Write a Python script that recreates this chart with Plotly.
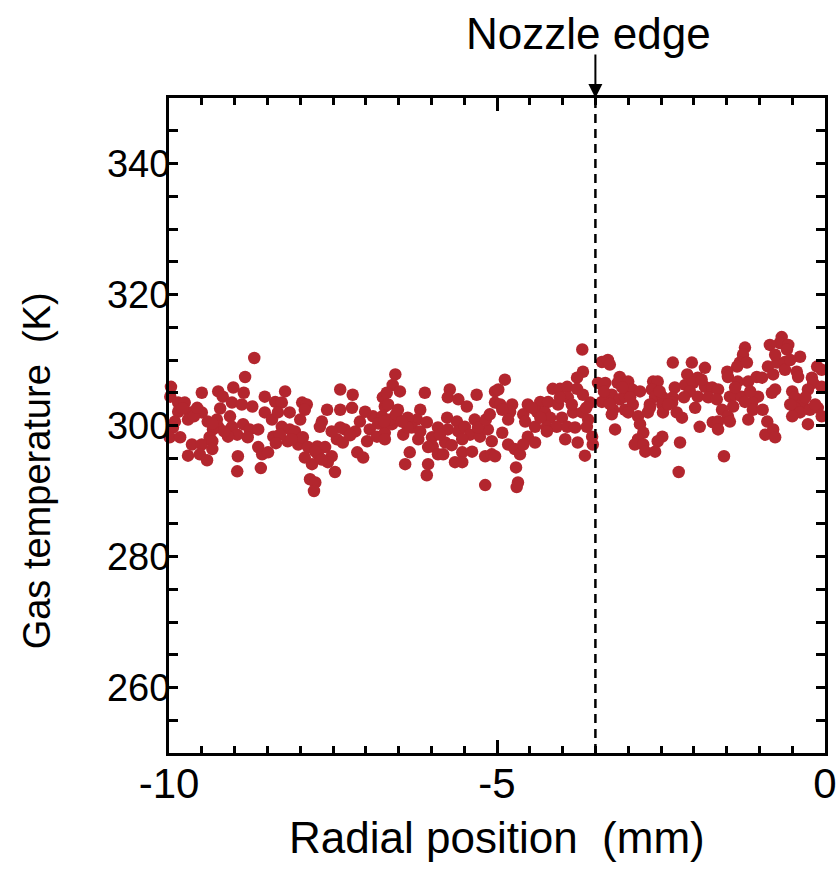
import plotly.graph_objects as go

# Radial position (mm) and gas temperature (K)
radial_mm = [
    -8.70, -8.84, -9.97, -9.98, -9.50, -9.25, -9.02, -8.86, -9.18, -9.04,
    -8.89, -8.73, -8.54, -9.86, -9.76, -9.86, -9.68, -9.50, -9.22, -9.07,
    -8.54, -8.43, -9.71, -9.91, -9.94, -9.41, -9.27, -9.25, -9.04, -8.87,
    -8.77, -8.64, -8.96, -8.80, -9.10, -9.33, -9.99, -9.83, -9.38, -8.41,
    -9.65, -9.50, -9.34, -9.34, -9.53, -9.71, -9.42, -8.64, -8.58, -8.49,
    -8.95, -8.96, -8.60,
    -8.23, -8.38, -8.28, -7.97, -7.90, -7.93, -7.39, -7.20, -7.21, -7.39,
    -7.59, -7.67, -7.70, -8.34, -8.16, -8.00, -8.28, -8.16, -8.08, -8.19,
    -8.03, -7.96, -7.88, -7.74, -7.62, -7.73, -7.52, -7.82, -7.58, -7.47,
    -7.85, -7.77, -7.79, -7.44, -7.35, -7.32, -7.16, -7.09, -7.13, -7.04,
    -6.98, -6.94, -6.89, -6.75, -6.83, -6.71, -6.74, -6.71,
    -6.55, -6.59, -6.48, -6.68, -6.66, -6.51, -6.10, -5.72, -5.75, -5.59,
    -5.46, -5.31, -5.03, -5.03, -6.17, -6.22, -6.36, -6.07, -6.60, -6.43,
    -6.30, -6.71, -6.20, -5.99, -5.90, -5.76, -5.61, -5.75, -5.59, -5.49,
    -5.34, -5.41, -5.26, -5.14, -5.08, -5.98, -5.79, -6.33, -5.90, -5.82,
    -5.53, -5.38, -5.18, -5.08, -5.64, -5.53, -6.05, -6.40, -6.07, -5.18,
    -3.70, -4.88, -4.98, -3.69, -3.78, -4.15, -4.04, -3.93, -3.78, -3.92,
    -3.40, -3.46, -4.95, -4.77, -4.80, -4.53, -4.34, -4.22, -4.07, -4.60,
    -4.83, -4.39, -4.27, -4.19, -4.01, -3.84, -3.70, -3.61, -3.58, -3.40,
    -4.42, -4.24, -4.09, -3.93, -3.81, -3.63, -4.53, -4.42, -4.24, -3.96,
    -3.77, -3.55, -3.54, -3.66, -4.92, -4.83, -4.73, -4.65, -5.03, -4.71,
    -4.68, -4.70, -4.60,
    -3.31, -3.28, -2.32, -2.03, -1.83, -2.10, -1.94, -3.13, -3.16, -3.00,
    -3.35, -2.94, -2.62, -2.55, -2.64, -2.29, -2.13, -2.01, -1.83, -1.72,
    -3.25, -3.35, -3.13, -3.05, -2.59, -2.47, -2.32, -1.94, -1.78, -2.93,
    -3.05, -3.23, -2.67, -2.48, -2.33, -1.98, -3.25, -3.00, -2.85, -2.70,
    -2.47, -2.26, -2.18, -2.82, -3.20, -1.91, -1.71, -2.77, -2.48, -2.85,
    -2.90, -2.77, -2.55, -2.21, -2.74, -2.59, -2.23,
    -0.66, -0.69, -0.84, -0.56, -0.58, -1.22, -1.25, -0.38, -1.30, -1.34,
    -1.19, -0.87, -0.73, -0.61, -0.12, -0.05, -1.49, -1.48, -0.61, -0.43,
    -0.41, -1.33, -1.17, -1.04, -0.96, -0.20, -0.18, -0.05, -0.26, -1.63,
    -1.65, -1.45, -1.37, -1.27, -1.02, -0.76, -0.81, -0.50, -0.46, -1.11,
    -1.40, -1.10, -0.95, -0.34, -0.46, -1.57, -0.38, -0.11, -0.23, -0.05,
    -1.48, -0.50, -1.17, -0.88, -1.63, -1.45, -0.26, -1.63, -0.91, -0.79,
    -0.76, -1.54,
    # points inside the dense band
    -9.79, -9.62, -9.57, -9.34, -9.16, -8.31, -8.13, -8.37, -7.77, -7.67,
    -7.93, -7.39, -7.24, -7.52, -7.01, -6.81, -6.63, -6.72, -6.54, -6.36,
    -6.17, -6.45, -5.87, -5.69, -6.05, -5.53, -5.29, -5.17, -4.92, -5.11,
    -4.57, -4.34, -4.47, -4.04, -3.86, -3.69, -3.64, -3.37, -3.28, -2.97,
    -2.82, -3.09, -2.52, -2.39, -2.67, -2.06, -1.88, -2.15, -1.37, -1.14,
    -1.22, -0.76, -0.53, -0.79, -0.30, -0.15, -0.53,
]

gas_temp_K = [
    310.3, 307.4, 305.9, 304.4, 305.0, 305.2, 305.8, 305.0, 304.4, 303.5,
    303.2, 302.9, 304.4, 303.5, 303.5, 302.1, 302.0, 302.0, 302.6, 301.4,
    302.0, 300.9, 300.9, 300.6, 299.7, 300.6, 300.9, 299.8, 299.8, 300.2,
    299.4, 299.4, 298.6, 298.2, 298.3, 299.4, 298.2, 298.2, 298.2, 298.3,
    297.1, 297.1, 297.6, 296.4, 295.6, 295.4, 294.7, 296.7, 295.6, 295.9,
    295.3, 293.0, 293.5,
    305.2, 303.6, 303.5, 303.5, 303.2, 302.4, 305.5, 304.7, 302.7, 302.4,
    302.4, 300.6, 299.8, 302.0, 302.0, 300.9, 299.8, 299.4, 299.1, 297.6,
    297.1, 298.2, 296.7, 296.8, 296.7, 295.6, 295.3, 294.1, 294.4, 292.9,
    291.8, 291.3, 290.0, 297.9, 297.4, 299.4, 299.1, 300.6, 295.9, 295.1,
    297.6, 299.4, 301.4, 301.4, 298.3, 298.9, 304.3, 302.9,
    307.8, 306.2, 305.2, 305.0, 303.2, 302.4, 305.0, 305.5, 304.3, 304.0,
    302.9, 304.7, 305.2, 303.5, 302.4, 300.9, 301.2, 300.5, 300.2, 298.6,
    299.7, 297.9, 297.9, 298.2, 299.7, 301.2, 300.6, 299.4, 299.1, 299.8,
    300.9, 298.6, 298.3, 299.4, 297.6, 296.8, 297.4, 295.9, 295.6, 295.6,
    295.9, 296.0, 295.3, 295.6, 294.4, 294.4, 294.1, 294.1, 292.4, 290.9,
    311.6, 307.0, 305.5, 308.2, 307.3, 305.6, 305.6, 305.9, 305.6, 304.3,
    309.7, 306.5, 303.2, 303.2, 302.1, 303.2, 303.6, 303.6, 303.2, 301.7,
    300.9, 302.1, 302.0, 301.2, 301.2, 302.0, 302.0, 300.9, 303.5, 303.6,
    299.8, 299.8, 299.8, 299.8, 299.7, 299.8, 298.3, 297.4, 299.1, 297.9,
    297.4, 298.3, 297.1, 295.4, 298.9, 297.1, 296.4, 295.6, 295.3, 293.6,
    291.3, 290.6, 297.1,
    310.0, 309.3, 309.6, 309.6, 308.8, 307.8, 307.3, 307.4, 306.5, 306.7,
    306.5, 305.5, 306.7, 306.7, 305.5, 305.8, 306.2, 306.5, 305.9, 305.8,
    304.7, 304.0, 304.0, 304.4, 304.4, 304.3, 304.3, 304.4, 304.3, 303.2,
    302.4, 302.4, 303.2, 303.2, 303.5, 302.7, 301.7, 302.0, 301.4, 302.0,
    302.0, 302.0, 301.2, 300.2, 299.4, 299.8, 300.5, 298.9, 298.3, 297.9,
    297.1, 297.1, 297.6, 297.4, 296.0, 296.0, 292.9,
    313.5, 312.6, 312.3, 312.3, 311.6, 311.9, 310.8, 310.5, 309.6, 309.0,
    309.6, 309.0, 309.6, 309.7, 309.0, 308.5, 308.2, 307.4, 308.5, 308.2,
    307.4, 306.7, 306.7, 307.4, 307.3, 307.3, 306.5, 305.9, 305.5, 305.5,
    304.0, 304.4, 304.7, 304.4, 304.4, 305.5, 305.0, 305.2, 304.3, 303.5,
    302.9, 302.4, 302.4, 303.5, 302.7, 302.4, 302.0, 302.7, 302.4, 301.4,
    301.4, 301.4, 300.9, 300.6, 300.6, 300.6, 300.2, 299.4, 298.6, 299.4,
    298.2, 295.3,
    # points inside the dense band
    302.6, 301.4, 302.7, 300.3, 299.1, 298.6, 297.9, 297.3, 296.0, 294.8,
    295.1, 299.7, 298.5, 299.1, 302.1, 300.3, 300.9, 300.6, 301.7, 299.7,
    299.1, 300.6, 298.6, 297.0, 296.7, 297.9, 299.7, 300.9, 302.4, 301.7,
    300.6, 301.2, 302.7, 304.3, 303.2, 304.7, 302.7, 305.2, 303.3, 304.3,
    305.2, 305.8, 305.2, 303.2, 302.7, 305.2, 307.0, 304.3, 305.8, 305.2,
    303.6, 310.8, 310.0, 307.8, 304.3, 303.2, 303.2,
]

nozzle_edge_mm = -3.5
x_tickvals = [-10, -5, 0]
x_ticktext = ["-10", "-5", "0"]
y_tickvals = [260, 280, 300, 320, 340]
y_ticktext = ["260", "280", "300", "320", "340"]

FONT = "Liberation Sans, Arial, sans-serif"
RED = "#b3262e"

fig = go.Figure()
fig.add_trace(go.Scatter(
    x=radial_mm, y=gas_temp_K, mode="markers",
    marker=dict(size=12.5, color=RED, line=dict(width=0)),
    showlegend=False, cliponaxis=False,
))

fig.add_shape(type="line", x0=nozzle_edge_mm, x1=nozzle_edge_mm, y0=0, y1=1,
              xref="x", yref="paper",
              line=dict(color="black", width=2.5, dash="9px,6px"))

# arrow pointing down to the nozzle edge
fig.add_annotation(x=nozzle_edge_mm, y=1, xref="x", yref="paper",
                   text=" ", showarrow=True, arrowhead=2,
                   arrowsize=1.4, arrowwidth=2, arrowcolor="black",
                   ax=0, ay=-46, font=dict(size=2))
# label above arrow
fig.add_annotation(x=nozzle_edge_mm, y=1, xref="x", yref="paper",
                   text="Nozzle edge", showarrow=False,
                   xshift=-7, yshift=65, xanchor="center", yanchor="middle",
                   font=dict(family=FONT, size=44, color="black"))

# axis titles
fig.add_annotation(x=0, y=0.43, xref="paper", yref="paper",
                   text="Gas temperature  (K)", showarrow=False, textangle=-90,
                   xshift=-132, xanchor="center", yanchor="middle",
                   font=dict(family=FONT, size=38, color="black"))
fig.add_annotation(x=0.5, y=0, xref="paper", yref="paper",
                   text="Radial position  (mm)", showarrow=False,
                   yshift=-84, xanchor="center", yanchor="middle",
                   font=dict(family=FONT, size=44, color="black"))

axis_common = dict(
    showgrid=False, zeroline=False, showline=True, linecolor="black",
    linewidth=3, mirror="allticks", ticks="inside", tickcolor="black",
    tickwidth=2.5, automargin=False,
)

fig.update_xaxes(range=[-10, 0], tickvals=x_tickvals, ticktext=x_ticktext,
                 ticklen=13, ticklabelstandoff=-8,
                 tickfont=dict(family=FONT, size=42, color="black"),
                 minor=dict(dtick=0.5, ticks="inside", ticklen=7,
                            tickcolor="black", tickwidth=2.5),
                 **axis_common)
fig.update_yaxes(range=[250, 350], tickvals=y_tickvals, ticktext=y_ticktext,
                 ticklen=9, ticklabelstandoff=-12,
                 tickfont=dict(family=FONT, size=38, color="black"),
                 minor=dict(dtick=5, ticks="inside", ticklen=9,
                            tickcolor="black", tickwidth=2.5),
                 **axis_common)

fig.update_layout(
    width=837, height=869,
    margin=dict(l=169, r=12, t=98, b=116),
    plot_bgcolor="white", paper_bgcolor="white",
    font=dict(family=FONT, color="black"),
)

# remove the page's default body margin so the figure sits at the window origin
fig.write_html("out.html",
               config={"displayModeBar": False},
               post_script="document.body.style.margin='0';"
                           "document.body.style.overflow='hidden';")
